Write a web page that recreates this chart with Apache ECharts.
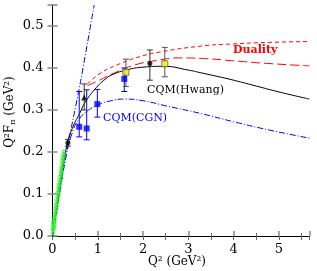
<!DOCTYPE html>
<html><head><meta charset="utf-8">
<script src="https://cdn.jsdelivr.net/npm/echarts@6/dist/echarts.min.js"></script>
<style>html,body{margin:0;padding:0;background:#fff}#c{width:317px;height:271px}</style>
</head><body><div id="c"></div>
<script>
// Curves [Q2, Q2F]
const hwang = [[0,0],[0.1,0.07],[0.2,0.14],[0.33,0.222],[0.46,0.262],[0.6,0.292],[0.72,0.318],[0.94,0.35],[1.16,0.373],[1.34,0.385],[1.7,0.397],[2.0,0.402],[2.45,0.404],[3.0,0.395],[3.26,0.389],[3.92,0.373],[4.5,0.357],[5.0,0.343],[5.67,0.326]];
const dualityUpper = [[0.77,0.362],[1.05,0.387],[1.42,0.407],[1.93,0.427],[2.37,0.438],[3.26,0.452],[3.92,0.457],[4.8,0.461],[5.67,0.463]];
const dualityLower = [[0.77,0.358],[0.98,0.368],[1.34,0.387],[1.78,0.406],[2.3,0.418],[2.8,0.424],[3.26,0.423],[4.0,0.417],[4.73,0.411],[5.67,0.405]];
const cgn = [[0,0],[0.15,0.1],[0.3,0.19],[0.45,0.25],[0.6,0.28],[0.8,0.3],[1.0,0.312],[1.25,0.321],[1.6,0.326],[2.0,0.322],[2.5,0.31],[3.26,0.292],[4.0,0.272],[4.8,0.252],[5.67,0.233]];
const steep = [[0,0],[0.31,0.2],[0.61,0.362],[0.92,0.55]];
// Data points [Q2, value, low, high]
const blackCircles = [[0.34,0.222,0.214,0.230],[2.15,0.411,0.371,0.443]];
const blackTriangles = [[0.70,0.330,0.300,0.362]];
const yellowSquares = [[1.62,0.390,0.356,0.421],[2.48,0.410,0.379,0.449]];
const blueSquares = [[0.59,0.260,0.236,0.344],[0.755,0.256,0.229,0.348],[0.99,0.314,0.283,0.349],[1.585,0.374,0.344,0.400]];
const greenPoints = [[0.01,0.012],[0.015,0.017],[0.02,0.02],[0.025,0.025],[0.03,0.03],[0.035,0.033],[0.04,0.038],[0.05,0.045],[0.06,0.052],[0.07,0.06],[0.08,0.068],[0.09,0.075],[0.1,0.082],[0.11,0.09],[0.12,0.098],[0.13,0.105],[0.14,0.112],[0.15,0.12],[0.16,0.128],[0.17,0.136],[0.18,0.143],[0.19,0.15],[0.2,0.158],[0.21,0.166],[0.22,0.174],[0.23,0.182],[0.24,0.19],[0.25,0.196]];
const xTicks = [0,1,2,3,4,5];
const yTicks = [0.0,0.1,0.2,0.3,0.4,0.5];

const FONT = 'DejaVu Serif';
const chart = echarts.init(document.getElementById('c'), null, {renderer:'canvas'});

function errBar(color, cap, lw){
  return function(params, api){
    const x = api.value(0), lo = api.value(2), hi = api.value(3);
    const p1 = api.coord([x, lo]), p2 = api.coord([x, hi]);
    return {type:'group', children:[
      {type:'line', shape:{x1:p1[0],y1:p1[1],x2:p2[0],y2:p2[1]}, style:{stroke:color,lineWidth:lw}},
      {type:'line', shape:{x1:p1[0]-cap,y1:p1[1],x2:p1[0]+cap,y2:p1[1]}, style:{stroke:color,lineWidth:lw}},
      {type:'line', shape:{x1:p2[0]-cap,y1:p2[1],x2:p2[0]+cap,y2:p2[1]}, style:{stroke:color,lineWidth:lw}}
    ]};
  };
}
const greenErr = greenPoints.map(p=>[p[0],p[1],p[1]-0.008,p[1]+0.008]);

const crossPath = 'path://M0,0L10,10M10,0L0,10';

const option = {
  animation:false,
  grid:{left:52.5, right:7.7, top:5, bottom:35},
  xAxis:[
    {type:'value', min:0, max:5.67, interval:1, position:'bottom',
     axisLine:{show:true, lineStyle:{color:'#000', width:1}},
     axisTick:{show:true, inside:true, length:5, lineStyle:{color:'#888', width:1.5}},
     minorTick:{show:true, splitNumber:2, length:3, lineStyle:{color:'#666'}},
     axisLabel:{fontFamily:FONT, fontSize:13, color:'#000', margin:7, formatter:v=>xTicks.includes(v)?String(v):''},
     splitLine:{show:false}},
    {type:'value', min:0, max:5.67, interval:0.5, position:'top',
     axisLine:{show:true, lineStyle:{color:'#000', width:1}},
     axisTick:{show:true, inside:true, length:4, lineStyle:{color:'#666'}},
     axisLabel:{show:false}, splitLine:{show:false}}
  ],
  yAxis:[
    {type:'value', min:0, max:0.55, interval:0.1, position:'left',
     axisLine:{show:true, lineStyle:{color:'#000', width:1}},
     axisTick:{show:true, inside:true, length:5, lineStyle:{color:'#888', width:1.5}},
     axisLabel:{fontFamily:FONT, fontSize:13, color:'#000', margin:9, formatter:v=>{const t=yTicks.find(u=>Math.abs(u-v)<1e-6);return t===undefined?'':t.toFixed(1);}},
     splitLine:{show:false}},
    {type:'value', min:0, max:0.55, interval:0.1, position:'right',
     axisLine:{show:true, lineStyle:{color:'#000', width:1}},
     axisTick:{show:true, inside:true, length:5, lineStyle:{color:'#888', width:1.5}},
     axisLabel:{show:false}, splitLine:{show:false}}
  ],
  series:[
    {type:'line', data:steep, smooth:0.2, symbol:'none', lineStyle:{color:'#0000ff', width:1, type:[6,2,1,2]}, z:2},
    {type:'line', data:cgn, smooth:true, symbol:'none', lineStyle:{color:'#0000ff', width:1, type:[6,2,1,2]}, z:2},
    {type:'line', data:dualityUpper, smooth:true, symbol:'none', lineStyle:{color:'#ff0000', width:1, type:[4,3]}, z:2},
    {type:'line', data:dualityLower, smooth:true, symbol:'none', lineStyle:{color:'#ff0000', width:1, type:[9,4]}, z:2},
    {type:'line', data:hwang, smooth:true, symbol:'none', lineStyle:{color:'#000', width:1}, z:3},
    {type:'custom', renderItem:errBar('#33ee33',1.5,1), data:greenErr, z:4},
    {type:'scatter', data:greenPoints, symbol:crossPath, symbolSize:5, itemStyle:{color:'none', borderColor:'#33ee33', borderWidth:1}, z:4},
    {type:'custom', renderItem:errBar('#0000ff',3,1), data:blueSquares, z:5},
    {type:'scatter', data:blueSquares, symbol:'rect', symbolSize:6, itemStyle:{color:'#0000ff'}, z:6},
    {type:'custom', renderItem:errBar('#555',3,1), data:yellowSquares, z:5},
    {type:'scatter', data:yellowSquares, symbol:'rect', symbolSize:6, itemStyle:{color:'#ffff00', borderColor:'#555', borderWidth:1}, z:6},
    {type:'custom', renderItem:errBar('#333',3,1), data:blackCircles, z:5},
    {type:'scatter', data:blackCircles, symbol:'circle', symbolSize:5, itemStyle:{color:'#000'}, z:6},
    {type:'custom', renderItem:errBar('#333',3,1), data:blackTriangles, z:5},
    {type:'scatter', data:blackTriangles, symbol:'triangle', symbolSize:6, itemStyle:{color:'#000'}, z:6}
  ],
  graphic:[
    {type:'text', left:233, top:45, style:{text:'Duality', fontFamily:FONT, fontSize:11, fontWeight:'bold', fill:'#ff0000'}},
    {type:'text', left:147, top:85, style:{text:'CQM(Hwang)', fontFamily:FONT, fontSize:11, fill:'#000'}},
    {type:'text', left:103, top:113, style:{text:'CQM(CGN)', fontFamily:FONT, fontSize:11, fill:'#0000ff'}},
    {type:'text', left:148, top:256, style:{text:'Q² (GeV²)', fontFamily:FONT, fontSize:12, fill:'#000'}},
    {type:'text', x:10, y:112, rotation:Math.PI/2, style:{
      rich:{a:{fontFamily:FONT, fontSize:12, fill:'#000'}, s:{fontFamily:FONT, fontSize:8, fill:'#000', padding:[6,0,0,0]}},
      text:'{a|Q²F}{s|π}{a| (GeV²)}', align:'center', verticalAlign:'middle'}}
  ]
};
chart.setOption(option);
</script></body></html>
